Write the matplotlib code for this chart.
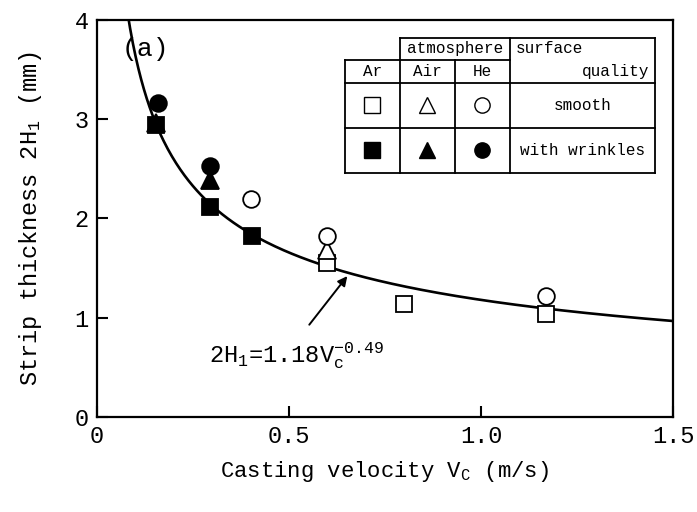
import numpy as np
import matplotlib
matplotlib.use("Agg")
import matplotlib.pyplot as plt

plt.rcParams['font.family'] = ['Liberation Mono', 'DejaVu Sans Mono']
plt.rcParams['mathtext.fontset'] = 'custom'
plt.rcParams['mathtext.rm'] = 'Liberation Mono'
plt.rcParams['mathtext.it'] = 'Liberation Mono'

# ---- data ----
ar_smooth_x = [0.60, 0.80, 1.17]
ar_smooth_y = [1.55, 1.14, 1.04]
air_smooth_x = [0.60]
air_smooth_y = [1.68]
he_smooth_x = [0.40, 0.60, 1.17]
he_smooth_y = [2.20, 1.82, 1.22]
ar_wrinkle_x = [0.155, 0.295, 0.405]
ar_wrinkle_y = [2.94, 2.12, 1.82]
air_wrinkle_x = [0.155, 0.295]
air_wrinkle_y = [2.96, 2.39]
he_wrinkle_x = [0.16, 0.295]
he_wrinkle_y = [3.16, 2.53]

fit_coef = 1.18
fit_exp = -0.49

xticks = [0, 0.5, 1.0, 1.5]
xticklabels = ['0', '0.5', '1.0', '1.5']
yticks = [0, 1, 2, 3, 4]
yticklabels = ['0', '1', '2', '3', '4']

fig = plt.figure(figsize=(6.97, 5.12), dpi=100)
ax = fig.add_axes([0.139, 0.1855, 0.8266, 0.7755])

v = np.linspace(0.05, 1.5, 400)
ax.plot(v, fit_coef * v ** fit_exp, color='black', lw=1.9, zorder=2)

ms = 12
mk = dict(linestyle='none', markeredgecolor='black', markeredgewidth=1.3, zorder=3)
ax.plot(ar_smooth_x, ar_smooth_y, marker='s', markerfacecolor='white', markersize=ms, **mk)
ax.plot(air_smooth_x, air_smooth_y, marker='^', markerfacecolor='white', markersize=ms + 1, **mk)
ax.plot(he_smooth_x, he_smooth_y, marker='o', markerfacecolor='white', markersize=ms, **mk)
ax.plot(ar_wrinkle_x, ar_wrinkle_y, marker='s', markerfacecolor='black', markersize=ms, **mk)
ax.plot(air_wrinkle_x, air_wrinkle_y, marker='^', markerfacecolor='black', markersize=ms + 1, **mk)
ax.plot(he_wrinkle_x, he_wrinkle_y, marker='o', markerfacecolor='black', markersize=ms, **mk)

ax.set_xlim(0, 1.5)
ax.set_ylim(0, 4)
ax.set_xticks(xticks)
ax.set_xticklabels(xticklabels)
ax.set_yticks(yticks)
ax.set_yticklabels(yticklabels)
ax.tick_params(direction='in', length=8, width=1.5, labelsize=17, pad=6)
for s in ax.spines.values():
    s.set_linewidth(1.6)

ax.set_xlabel(r'Casting velocity V$_\mathrm{C}$ (m/s)', fontsize=16, labelpad=8)
ax.set_ylabel(r'Strip thickness 2H$_\mathrm{1}$ (mm)', fontsize=17, labelpad=22)

# (a) label
ax.text(0.085, 0.928, '(a)', transform=ax.transAxes, fontsize=19,
        ha='center', va='center')

# equation and arrow
ax.text(0.52, 0.62, r'2H$_\mathrm{1}$=1.18V$_\mathrm{c}^\mathrm{-0.49}$',
        fontsize=17, ha='center', va='center')
ax.annotate('', xy=(0.652, 1.42), xytext=(0.553, 0.93),
            arrowprops=dict(arrowstyle='-|>', color='black', lw=1.4,
                            mutation_scale=14, shrinkA=0, shrinkB=0))

# legend table (axes fraction)
T = ax.transAxes
xL, xAr, xAir, xHe, xR = 0.4306, 0.526, 0.6215, 0.717, 0.9688
yT, yH, yM, yS, yB = 0.9547, 0.8992, 0.8413, 0.728, 0.6146
lk = dict(color='black', lw=1.3, transform=T, zorder=5, clip_on=False)
ax.fill([xL, xR, xR, xL], [yB, yB, yM, yM], color='white', transform=T, zorder=4)
ax.fill([xAr, xR, xR, xAr], [yM, yM, yT, yT], color='white', transform=T, zorder=4)
ax.fill([xL, xAr, xAr, xL], [yM, yM, yH, yH], color='white', transform=T, zorder=4)
ax.plot([xAr, xR], [yT, yT], **lk)
ax.plot([xL, xHe], [yH, yH], **lk)
ax.plot([xL, xR], [yM, yM], **lk)
ax.plot([xL, xR], [yS, yS], **lk)
ax.plot([xL, xR], [yB, yB], **lk)
ax.plot([xL, xL], [yB, yH], **lk)
ax.plot([xAr, xAr], [yB, yT], **lk)
ax.plot([xAir, xAir], [yB, yH], **lk)
ax.plot([xHe, xHe], [yB, yT], **lk)
ax.plot([xR, xR], [yB, yT], **lk)

tf = 11.5
ax.text((xAr + xHe) / 2, (yT + yH) / 2, 'atmosphere', transform=T, fontsize=tf,
        ha='center', va='center', zorder=6)
ax.text(xHe + 0.01, (yT + yH) / 2, 'surface', transform=T, fontsize=tf,
        ha='left', va='center', zorder=6)
ax.text(xR - 0.01, (yH + yM) / 2, 'quality', transform=T, fontsize=tf,
        ha='right', va='center', zorder=6)
for cx, lab in [((xL + xAr) / 2, 'Ar'), ((xAr + xAir) / 2, 'Air'), ((xAir + xHe) / 2, 'He')]:
    ax.text(cx, (yH + yM) / 2, lab, transform=T, fontsize=tf, ha='center', va='center', zorder=6)
ax.text((xHe + xR) / 2, (yM + yS) / 2, 'smooth', transform=T, fontsize=tf,
        ha='center', va='center', zorder=6)
ax.text((xHe + xR) / 2, (yS + yB) / 2, 'with wrinkles', transform=T, fontsize=tf,
        ha='center', va='center', zorder=6)

lm = dict(transform=T, linestyle='none', markeredgecolor='black', zorder=6,
          clip_on=False, markersize=11, markeredgewidth=1.0)
for cx, m, in [((xL + xAr) / 2, 's'), ((xAr + xAir) / 2, '^'), ((xAir + xHe) / 2, 'o')]:
    ax.plot([cx], [(yM + yS) / 2], marker=m, markerfacecolor='white', **lm)
    ax.plot([cx], [(yS + yB) / 2], marker=m, markerfacecolor='black', **lm)

fig.savefig('out.png', dpi=100)
